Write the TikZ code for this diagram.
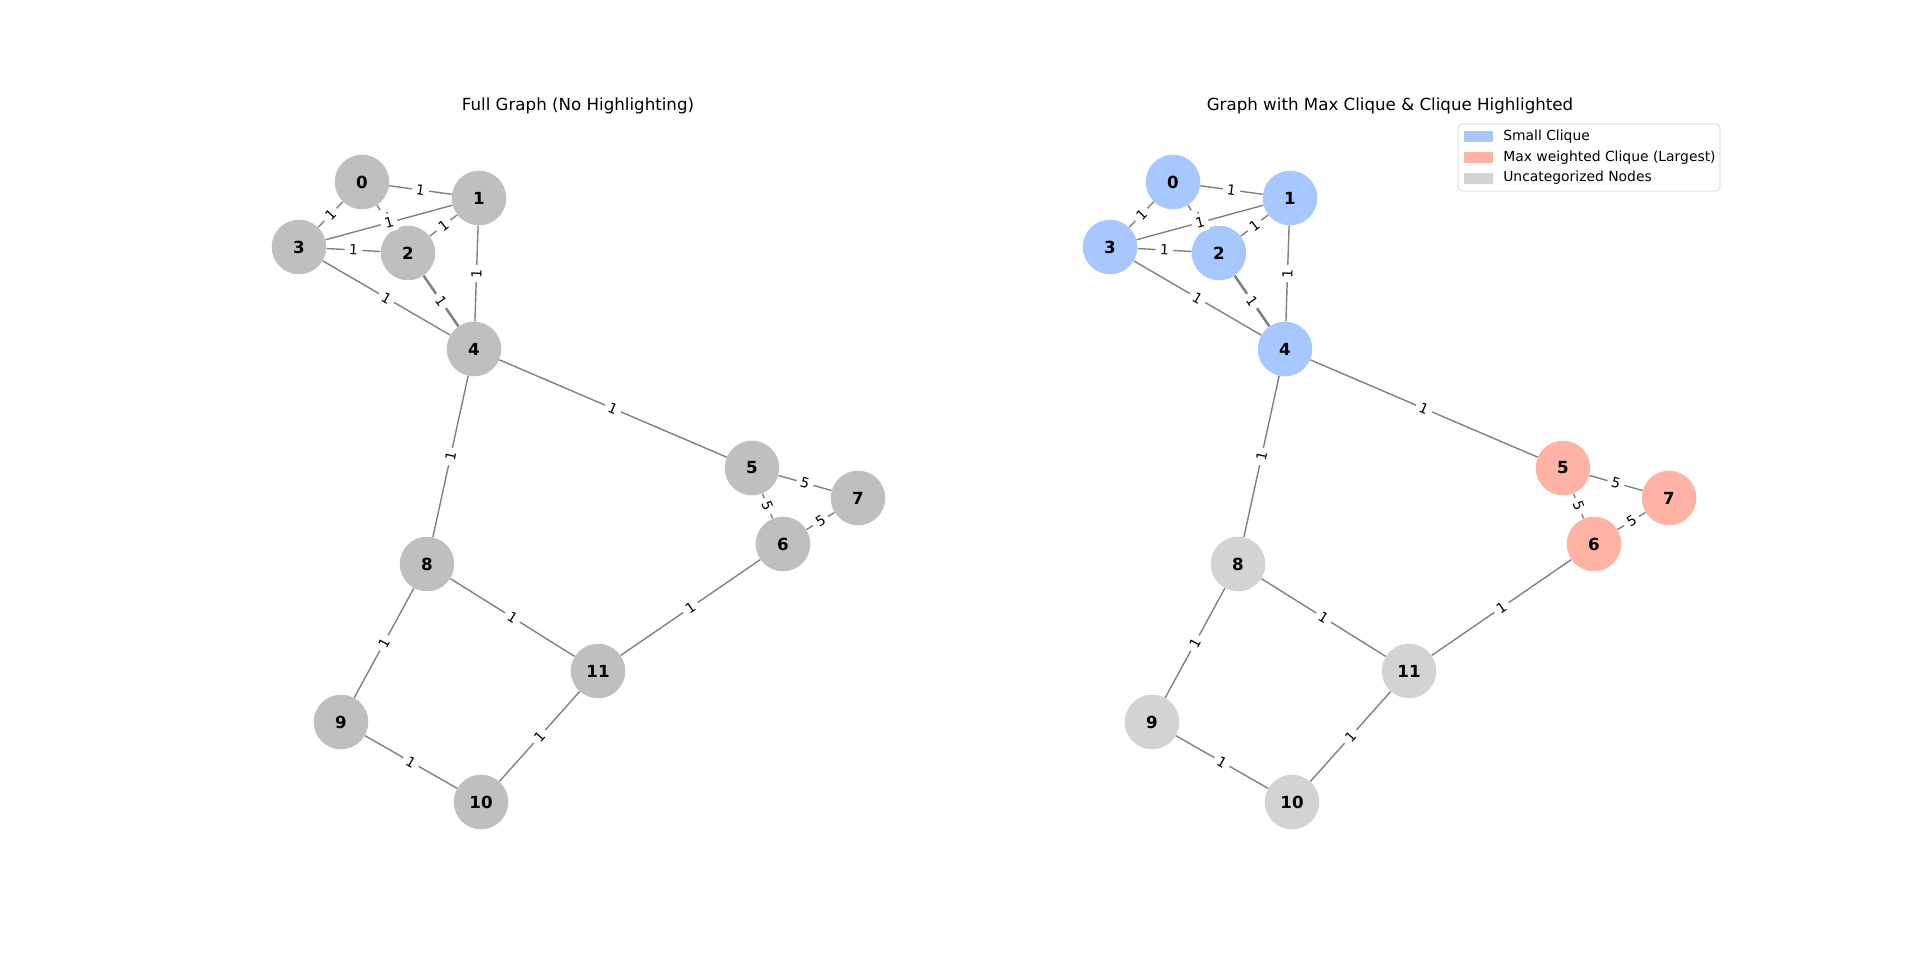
\documentclass[tikz,border=0pt]{standalone}
\usepackage{fontspec}
\setmainfont{DejaVu Sans}
\definecolor{smallclq}{RGB}{166,200,255}
\definecolor{maxclq}{RGB}{255,179,164}
\definecolor{uncat}{RGB}{211,211,211}
\definecolor{plain}{RGB}{191,191,191}
\definecolor{edgegray}{RGB}{128,128,128}
\begin{document}
\begin{tikzpicture}[
		x=0.72pt, y=-0.72pt,
		vertex/.style={circle, minimum size=39.3pt, inner sep=0pt,
			font=\bfseries\fontsize{12}{14}\selectfont},
		link/.style={draw=edgegray, line width=1pt},
		heavy/.style={draw=edgegray, line width=1.8pt},
		wlabel/.style={midway, sloped, fill=white, rounded corners=2pt, inner sep=3pt,
			font=\fontsize{10}{12}\selectfont},
		title/.style={anchor=base, font=\fontsize{12}{14}\selectfont},
		legtext/.style={anchor=west, inner sep=0pt, font=\fontsize{10}{12}\selectfont}
	]

	\useasboundingbox (0,0) rectangle (1920,975);

	\node[title] (ltitle) at (578,110) {Full Graph (No Highlighting)};
	\node[title] (rtitle) at (1390,110) {Graph with Max Clique \& Clique Highlighted};

	\foreach \n/\x/\y/\c in {0/362/182/smallclq, 1/479/198/smallclq, 2/408/253/smallclq,
		3/299/247/smallclq, 4/474/349/smallclq, 5/752/468/maxclq, 6/783/544/maxclq,
		7/858/498/maxclq, 8/427/564/uncat, 9/341/722/uncat, 10/481/802/uncat,
		11/598/671/uncat}{
		\node[vertex, fill=plain] (L\n) at (\x,\y) {\n};
		\node[vertex, fill=\c] (R\n) at (\x+811,\y) {\n};
	}

	\foreach \a/\b/\w in {0/1/1, 0/2/1, 0/3/1, 1/2/1, 1/3/1, 1/4/1, 2/3/1, 3/4/1,
		4/5/1, 4/8/1, 5/6/5, 5/7/5, 6/7/5, 6/11/1, 8/9/1, 8/11/1, 9/10/1, 10/11/1}{
		\draw[link] (L\a) -- node[wlabel] {\w} (L\b);
		\draw[link] (R\a) -- node[wlabel] {\w} (R\b);
	}
	\draw[heavy] (L2) -- node[wlabel] {1} (L4);
	\draw[heavy] (R2) -- node[wlabel] {1} (R4);

	% legend
	\draw[draw=black!20, fill=white, rounded corners=3pt] (1458,124) rectangle (1720,191);
	\foreach \c/\t [count=\i] in {smallclq/{Small Clique}, maxclq/{Max weighted Clique (Largest)},
		uncat/{Uncategorized Nodes}}{
		\fill[\c] (1464,{131+20.8*(\i-1)}) rectangle ++(29,11);
		\node[legtext] (leg\i) at (1503,{136.5+20.8*(\i-1)}) {\t};
	}

\end{tikzpicture}
\end{document}
